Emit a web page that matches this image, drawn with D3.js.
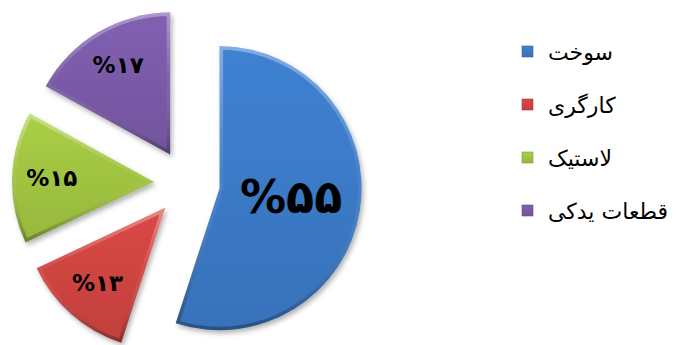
<!DOCTYPE html>
<html>
<head>
<meta charset="utf-8">
<script src="https://cdn.jsdelivr.net/npm/d3@7"></script>
<style>
  html, body { margin: 0; padding: 0; background: #fff; }
  svg { display: block; }
</style>
</head>
<body>
<div id="chart"></div>
<script>
'use strict';

// data
const categories = ['سوخت', 'کارگری', 'لاستیک', 'قطعات یدکی'];
const values = [55, 13, 15, 17];
const colors = ['#3b78c4', '#cc4340', '#9ec140', '#7859a6'];

const w = 676, h = 345;
const cx = 187, cy = 183, r = 142, explode = 33;

const faDigits = s => String(s).replace(/\d/g, d => '۰۱۲۳۴۵۶۷۸۹'[d]);

const svg = d3.select('#chart').append('svg').attr('width', w).attr('height', h);
const defs = svg.append('defs');

const shadow = defs.append('filter').attr('id', 'shadow').attr('x', '-20%').attr('y', '-20%').attr('width', '140%').attr('height', '140%');
shadow.append('feDropShadow').attr('dx', 2).attr('dy', 3).attr('stdDeviation', 2.5).attr('flood-color', '#000').attr('flood-opacity', 0.3);

colors.forEach(function(c, i) {
  const g = defs.append('linearGradient').attr('id', 'fill' + i).attr('x1', 0).attr('y1', 0).attr('x2', 0).attr('y2', 1);
  g.append('stop').attr('offset', '0%').attr('stop-color', d3.color(c).brighter(0.2));
  g.append('stop').attr('offset', '100%').attr('stop-color', d3.color(c).darker(0.15));
});
const edge = defs.append('linearGradient').attr('id', 'edge').attr('x1', 0).attr('y1', 0).attr('x2', 0).attr('y2', 1);
edge.append('stop').attr('offset', '0%').attr('stop-color', '#fff').attr('stop-opacity', 0.35);
edge.append('stop').attr('offset', '45%').attr('stop-color', '#fff').attr('stop-opacity', 0.05);
edge.append('stop').attr('offset', '100%').attr('stop-color', '#000').attr('stop-opacity', 0.3);

const pie = d3.pie().sort(null).value(d => d)(values);
const arc = d3.arc().innerRadius(0).outerRadius(r);

const slices = svg.append('g').attr('transform', 'translate(' + cx + ',' + cy + ')')
  .selectAll('g').data(pie).enter().append('g')
  .attr('transform', function(d) {
    const a = (d.startAngle + d.endAngle) / 2;
    return 'translate(' + (explode * Math.sin(a)) + ',' + (-explode * Math.cos(a)) + ')';
  });

slices.append('clipPath').attr('id', (d, i) => 'clip' + i)
  .append('path').attr('d', arc);

slices.append('path').attr('d', arc)
  .attr('fill', (d, i) => 'url(#fill' + i + ')')
  .attr('filter', 'url(#shadow)');

slices.append('path').attr('d', arc)
  .attr('fill', 'none')
  .attr('stroke', 'url(#edge)')
  .attr('stroke-width', 7)
  .attr('stroke-linejoin', 'round')
  .attr('clip-path', (d, i) => 'url(#clip' + i + ')');

slices.append('text')
  .attr('transform', function(d) {
    const a = (d.startAngle + d.endAngle) / 2;
    const lr = r * (d.value > 50 ? 0.51 : 0.72);
    return 'translate(' + (lr * Math.sin(a)) + ',' + (-lr * Math.cos(a)) + ')';
  })
  .attr('text-anchor', 'middle')
  .attr('dy', '0.3em')
  .attr('font-family', 'DejaVu Sans')
  .attr('font-weight', 'bold')
  .attr('font-size', d => d.value > 50 ? 46 : 23)
  .attr('fill', '#000')
  .text(d => '%' + faDigits(d.value));

// legend
const legend = svg.append('g').attr('transform', 'translate(522,0)');
const row = legend.selectAll('g').data(categories).enter().append('g')
  .attr('transform', (d, i) => 'translate(0,' + (52 + i * 53) + ')');

row.append('rect').attr('x', 0).attr('y', -6).attr('width', 11).attr('height', 11)
  .attr('fill', (d, i) => 'url(#fill' + i + ')')
  .attr('stroke', (d, i) => d3.color(colors[i]).darker(0.6)).attr('stroke-width', 0.6);

row.append('text').attr('x', 26).attr('dy', '0.35em')
  .attr('font-family', 'DejaVu Sans')
  .attr('font-size', 22)
  .attr('fill', '#000')
  .attr('direction', 'rtl')
  .attr('text-anchor', 'end')
  .text(d => d);
</script>
</body>
</html>
